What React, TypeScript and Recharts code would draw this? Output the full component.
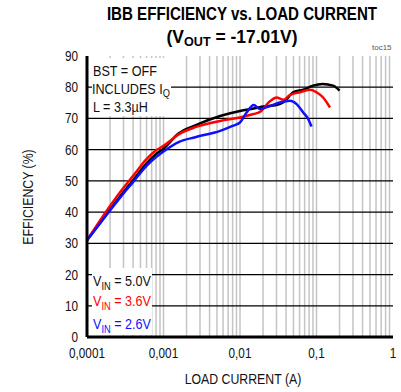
import React from 'react';
import { LineChart, Line, XAxis, YAxis, ReferenceLine } from 'recharts';

const decadeTicks = [0.0001, 0.001, 0.01, 0.1, 1];
const decadeLabels = ['0,0001', '0,001', '0,01', '0,1', '1'];
const yTicks = [0, 10, 20, 30, 40, 50, 60, 70, 80, 90];
const hGrid = [10, 20, 30, 40, 50, 60, 70, 80];
const vGrid = [
  0.0002, 0.0003, 0.0004, 0.0005, 0.0006, 0.0007, 0.0008, 0.0009, 0.001,
  0.002, 0.003, 0.004, 0.005, 0.006, 0.007, 0.008, 0.009, 0.01,
  0.02, 0.03, 0.04, 0.05, 0.06, 0.07, 0.08, 0.09, 0.1,
  0.2, 0.3, 0.4, 0.5, 0.6, 0.7, 0.8, 0.9,
];

const vin50Current = [0.0001, 0.0002, 0.0003, 0.0004, 0.0006, 0.0008, 0.001, 0.0016, 0.0026, 0.0055, 0.01, 0.015, 0.02, 0.03, 0.037, 0.05, 0.067, 0.09, 0.12, 0.165, 0.2];
const vin50Eff = [31, 40.8, 46.4, 50.2, 55.6, 58.6, 60.3, 65.3, 67.8, 70.8, 72.4, 73.2, 73.8, 74.3, 75.2, 78.4, 79.2, 80.5, 81, 80.5, 78.9];

const vin36Current = [0.0001, 0.0002, 0.0003, 0.0004, 0.0006, 0.0008, 0.001, 0.0016, 0.0026, 0.0055, 0.01, 0.015, 0.018, 0.0246, 0.03, 0.037, 0.045, 0.061, 0.083, 0.1, 0.122, 0.15];
const vin36Eff = [31, 42, 47.8, 51.6, 57, 59.8, 61.2, 65, 67.2, 69.2, 70.3, 71.4, 72, 75.5, 76.7, 76, 77.5, 78.4, 79.2, 78.4, 76.7, 73.5];

const vin26Current = [0.0001, 0.0002, 0.0003, 0.0004, 0.0006, 0.0008, 0.001, 0.0016, 0.0026, 0.0055, 0.008, 0.01, 0.0122, 0.0151, 0.0183, 0.0246, 0.033, 0.045, 0.055, 0.067, 0.078, 0.086];
const vin26Eff = [31, 40.5, 46, 49.6, 54.8, 57.6, 59.4, 62.5, 64, 66, 67.6, 68.7, 71.9, 74.3, 73, 74, 75.1, 75.7, 74.6, 71.9, 69.8, 67.4];

const toRows = (xs: number[], ys: number[]) => xs.map((x, i) => ({ x, y: ys[i] }));
const vin50 = toRows(vin50Current, vin50Eff);
const vin36 = toRows(vin36Current, vin36Eff);
const vin26 = toRows(vin26Current, vin26Eff);

const FONT = "'Liberation Sans Narrow', 'Arial Narrow', 'Liberation Sans', Arial, sans-serif";
const NARROW = 0.84;

const abs = (left: number, top: number, extra: React.CSSProperties = {}): React.CSSProperties => ({
  position: 'absolute',
  left,
  top,
  fontFamily: FONT,
  whiteSpace: 'nowrap',
  lineHeight: 1,
  ...extra,
});

const narrowLeft: React.CSSProperties = { transform: `scaleX(${NARROW})`, transformOrigin: '0 0' };

const XTick = (props: any) => {
  const { x, y, payload } = props;
  const label = decadeLabels[decadeTicks.indexOf(payload.value)] ?? String(payload.value);
  return (
    <g transform={`translate(${x},${y})`}>
      <text x={0} y={0} dy="0.71em" textAnchor="middle" fill="#111" fontSize={14} fontFamily={FONT} transform={`scale(${NARROW},1)`}>
        {label}
      </text>
    </g>
  );
};

const YTick = (props: any) => {
  const { x, y, payload } = props;
  return (
    <g transform={`translate(${x},${y})`}>
      <text x={0} y={0} dy="0.355em" textAnchor="end" fill="#111" fontSize={14} fontFamily={FONT} transform={`scale(${NARROW},1)`}>
        {payload.value}
      </text>
    </g>
  );
};

export default function App() {
  return (
    <div style={{ position: 'absolute', left: 0, top: 0, width: 401, height: 392, background: '#fff', overflow: 'hidden' }}>
      <LineChart width={401} height={392} data={vin50} margin={{ top: 56, right: 8, bottom: 25, left: 47 }}>
        <XAxis
          dataKey="x"
          type="number"
          scale="log"
          domain={[0.0001, 1]}
          ticks={decadeTicks}
          allowDataOverflow
          height={30}
          tickSize={0}
          tickMargin={11}
          axisLine={{ stroke: '#000', strokeWidth: 3 }}
          tick={<XTick />}
        />
        <XAxis
          xAxisId="top"
          orientation="top"
          dataKey="x"
          type="number"
          scale="log"
          domain={[0.0001, 1]}
          allowDataOverflow
          height={0}
          tick={false}
          tickLine={false}
          axisLine={{ stroke: '#000', strokeWidth: 3 }}
        />
        <YAxis
          type="number"
          domain={[0, 90]}
          ticks={yTicks}
          interval={0}
          width={40}
          tickSize={0}
          tickMargin={9}
          axisLine={{ stroke: '#000', strokeWidth: 3 }}
          tick={<YTick />}
        />
        <YAxis
          yAxisId="right"
          orientation="right"
          type="number"
          domain={[0, 90]}
          width={0}
          tick={false}
          tickLine={false}
          axisLine={{ stroke: '#000', strokeWidth: 3 }}
        />
        {vGrid.map((v) => (
          <ReferenceLine key={'v' + v} x={v} stroke="#c4c4c4" strokeWidth={1.5} />
        ))}
        {hGrid.map((v) => (
          <ReferenceLine key={'h' + v} y={v} stroke="#000" strokeWidth={1.2} />
        ))}
        <Line data={vin50} dataKey="y" type="monotone" stroke="#000" strokeWidth={2.5} dot={false} isAnimationActive={false} />
        <Line data={vin36} dataKey="y" type="monotone" stroke="#ff0000" strokeWidth={2.5} dot={false} isAnimationActive={false} />
        <Line data={vin26} dataKey="y" type="monotone" stroke="#1010ff" strokeWidth={2.5} dot={false} isAnimationActive={false} />
      </LineChart>

      <div style={abs(242, 5, { fontWeight: 'bold', fontSize: 18, transform: 'translateX(-50%) scaleX(0.84)' })}>
        IBB EFFICIENCY vs. LOAD CURRENT
      </div>
      <div style={abs(232, 28, { fontWeight: 'bold', fontSize: 18, transform: 'translateX(-50%) scaleX(0.97)' })}>
        (V<sub style={{ fontSize: 13, verticalAlign: -3 }}>OUT</sub> = -17.01V)
      </div>
      <div style={abs(372, 44, { fontSize: 8, color: '#555' })}>toc15</div>

      <div style={abs(92, 58, { width: 79, height: 58, background: '#fff', fontSize: 15, color: '#111' })}>
        <div style={{ position: 'absolute', left: 1, top: 5, ...narrowLeft }}>BST = OFF</div>
        <div style={{ position: 'absolute', left: 0, top: 23, ...narrowLeft }}>
          INCLUDES I<sub style={{ fontSize: 11, verticalAlign: -3 }}>Q</sub>
        </div>
        <div style={{ position: 'absolute', left: 1, top: 41, ...narrowLeft }}>L = 3.3µH</div>
      </div>

      <div style={abs(92, 268, { width: 60, height: 67, background: '#fff', fontSize: 15 })}>
        <div style={{ position: 'absolute', left: 1, top: 5, color: '#111', ...narrowLeft }}>
          V<sub style={{ fontSize: 11, verticalAlign: -4 }}>IN</sub> = 5.0V
        </div>
        <div style={{ position: 'absolute', left: 1, top: 25, color: '#ff0000', ...narrowLeft }}>
          V<sub style={{ fontSize: 11, verticalAlign: -4 }}>IN</sub> = 3.6V
        </div>
        <div style={{ position: 'absolute', left: 1, top: 48, color: '#1010ff', ...narrowLeft }}>
          V<sub style={{ fontSize: 11, verticalAlign: -4 }}>IN</sub> = 2.6V
        </div>
      </div>

      <div style={abs(243, 371, { fontSize: 15, color: '#111', transform: 'translateX(-50%) scaleX(0.82)' })}>
        LOAD CURRENT (A)
      </div>
      <div style={abs(27, 197, { fontSize: 15, color: '#111', transform: 'translate(-50%, -50%) rotate(-90deg) scaleX(0.82)' })}>
        EFFICIENCY (%)
      </div>
    </div>
  );
}
